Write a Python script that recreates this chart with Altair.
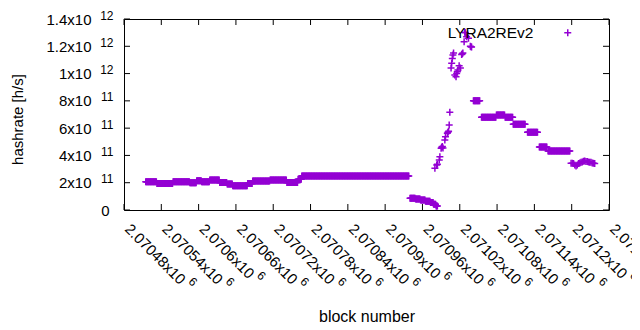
import altair as alt
import pandas as pd

# ---- data (hashrate in units of 1e11 h/s) ----
# flat runs: first block, last block, value
run_first = [2070515, 2070533, 2070559, 2070586, 2070597, 2070605, 2070618, 2070634,
             2070646, 2070655, 2070679, 2070687, 2070715, 2070742, 2070760, 2070766,
             2070940, 2070949, 2070957, 2070965, 2070973, 2070978, 2070982,
             2071042, 2071055, 2071079, 2071093, 2071106, 2071129, 2071148, 2071162]
run_last = [2070532, 2070558, 2070585, 2070596, 2070604, 2070617, 2070633, 2070645,
            2070654, 2070678, 2070686, 2070714, 2070741, 2070759, 2070765, 2070938,
            2070948, 2070956, 2070964, 2070972, 2070977, 2070981, 2070984,
            2071052, 2071078, 2071092, 2071105, 2071125, 2071145, 2071160, 2071197]
run_rate = [2.07, 1.95, 2.07, 1.99, 2.14, 2.07, 2.20, 2.02,
            1.90, 1.78, 1.95, 2.12, 2.20, 2.02, 2.25, 2.50,
            0.86, 0.80, 0.73, 0.65, 0.55, 0.43, 0.30,
            8.00, 6.80, 6.96, 6.80, 6.28, 5.70, 4.62, 4.33]

# single points (spike and tail)
spot_block = [2070980, 2070983, 2070984, 2070987, 2070988, 2070990, 2070991, 2070992,
              2070993, 2070996, 2070997, 2071000, 2071001, 2071002, 2071003, 2071004,
              2071006, 2071007, 2071008, 2071009, 2071010, 2071012, 2071014, 2071015,
              2071016, 2071017, 2071019, 2071021, 2071023, 2071024, 2071025, 2071027,
              2071028, 2071029, 2071031, 2071034, 2071037, 2071038, 2071039,
              2071199, 2071201, 2071203, 2071205, 2071207, 2071209, 2071211, 2071213,
              2071215, 2071217, 2071219, 2071221, 2071223, 2071225, 2071227, 2071229,
              2071231, 2071233, 2071235, 2071237]
spot_rate = [3.06, 3.30, 3.35, 3.67, 3.90, 4.52, 4.60, 4.65,
             4.55, 5.13, 5.37, 5.62, 5.70, 5.78, 6.23, 7.16,
             10.40, 10.75, 11.10, 11.36, 11.50, 9.90, 9.77, 10.00,
             10.14, 10.26, 10.58, 10.40, 11.40, 11.45, 11.50, 12.34,
             13.03, 13.00, 12.70, 12.59, 12.00, 11.97, 11.95,
             3.42, 3.42, 3.40, 3.30, 3.22, 3.30, 3.40, 3.45,
             3.50, 3.52, 3.58, 3.60, 3.55, 3.55, 3.52, 3.50,
             3.50, 3.45, 3.42, 3.40]

series_name = "LYRA2REv2"

x_ticks = [2070480, 2070540, 2070600, 2070660, 2070720, 2070780, 2070840,
           2070900, 2070960, 2071020, 2071080, 2071140, 2071200, 2071260]
x_tick_base = ["2.07048x10", "2.07054x10", "2.0706x10", "2.07066x10", "2.07072x10",
               "2.07078x10", "2.07084x10", "2.0709x10", "2.07096x10", "2.07102x10",
               "2.07108x10", "2.07114x10", "2.0712x10", "2.07126x10"]
x_tick_exp = ["6"] * len(x_ticks)

y_ticks = [0, 2e11, 4e11, 6e11, 8e11, 1e12, 1.2e12, 1.4e12]
y_tick_base = ["0", "2x10", "4x10", "6x10", "8x10", "1x10", "1.2x10", "1.4x10"]
y_tick_exp = ["", "11", "11", "11", "11", "12", "12", "12"]

# ---- build tables ----
blocks, rates = [], []
for f, l, v in zip(run_first, run_last, run_rate):
    for b in range(f, l + 1):
        blocks.append(b)
        rates.append(v * 1e11)
for b, v in zip(spot_block, spot_rate):
    blocks.append(b)
    rates.append(v * 1e11)
df = pd.DataFrame({"block": blocks, "rate": rates, "series": series_name})
xt = pd.DataFrame({"block": x_ticks})
yt = pd.DataFrame({"rate": y_ticks})

W, H = 485, 191
FONT = "Liberation Sans"
PURPLE = "#9400d3"
PLUS = "M-1,0H1M0,-1V1"
XDOM = [x_ticks[0], x_ticks[-1]]
YDOM = [0, 1.4e12]


def xs():
    return alt.Scale(domain=XDOM, nice=False, zero=False)


def ys():
    return alt.Scale(domain=YDOM, nice=False, zero=True)


def arr(lst):
    return "[" + ",".join("'" + s + "'" for s in lst) + "]"


x_idx = f"round((datum.value-{x_ticks[0]})/60)"
y_idx = "round(datum.value/2e11)"

x_axis = alt.Axis(
    values=x_ticks, labelExpr=arr(x_tick_base) + "[" + x_idx + "]",
    labelAngle=45, labelAlign="left", labelBaseline="middle",
    labelPadding=16, labelOffset=3, ticks=False, tickSize=0, domain=False,
    grid=False, labelFont=FONT, labelFontSize=15, labelColor="black",
    labelOverlap=False, labelFlush=False, labelBound=False,
    title="block number", titleFont=FONT, titleFontSize=16,
    titleFontWeight="normal", titleColor="black", titleY=111,
    titleBaseline="alphabetic")
y_axis = alt.Axis(
    values=y_ticks, labelExpr=arr(y_tick_base) + "[" + y_idx + "]",
    labelPadding={"condition": {"test": "datum.value == 0", "value": 15}, "value": 33},
    ticks=False, tickSize=0, domain=False, grid=False,
    labelFont=FONT, labelFontSize=15, labelColor="black",
    labelOverlap=False, labelFlush=False, labelBound=False,
    title="hashrate [h/s]", titleFont=FONT, titleFontSize=15,
    titleFontWeight="normal", titleColor="black", titleX=-107, titleY=100,
    titleBaseline="middle", titleAlign="center", titleAngle=270)

points = alt.Chart(df).mark_point(
    shape=PLUS, filled=False, size=49, strokeWidth=1.5, opacity=1
).encode(
    x=alt.X("block:Q", scale=xs(), axis=x_axis),
    y=alt.Y("rate:Q", scale=ys(), axis=y_axis),
    color=alt.Color("series:N", scale=alt.Scale(range=[PURPLE]), legend=alt.Legend(
        orient="none", legendX=436, legendY=6, title=None, padding=0,
        labelAlign="right", labelOffset={"expr": "-42"}, labelFont=FONT, labelFontSize=15.5,
        labelColor="black", symbolType=PLUS, symbolSize=49, symbolStrokeWidth=1.5,
        symbolStrokeColor=PURPLE)),
)

tick_bottom = alt.Chart(xt).mark_rule(color="black", strokeWidth=1).encode(
    x=alt.X("block:Q", scale=xs(), axis=x_axis), y=alt.value(H), y2=alt.value(H - 6))
tick_top = alt.Chart(xt).mark_rule(color="black", strokeWidth=1).encode(
    x=alt.X("block:Q", scale=xs(), axis=x_axis), y=alt.value(0), y2=alt.value(6))
tick_left = alt.Chart(yt).mark_rule(color="black", strokeWidth=1).encode(
    y=alt.Y("rate:Q", scale=ys(), axis=y_axis), x=alt.value(0), x2=alt.value(6))
tick_right = alt.Chart(yt).mark_rule(color="black", strokeWidth=1).encode(
    y=alt.Y("rate:Q", scale=ys(), axis=y_axis), x=alt.value(W), x2=alt.value(W - 6))

base = alt.layer(points, tick_bottom, tick_top, tick_left, tick_right)

# second set of axes carrying the exponents as raised, smaller labels
exp_layer = alt.Chart(yt.assign(block=x_ticks[0])).mark_point(opacity=0).encode(
    x=alt.X("block:Q", scale=xs(), axis=alt.Axis(
        orient="bottom", values=x_ticks, labelExpr=arr(x_tick_exp) + "[" + x_idx + "]",
        labelAngle=45, labelAlign="left", labelBaseline="middle",
        labelOffset={"condition": {"test": "datum.value % 300 == 0", "value": 60}, "value": 66},
        labelPadding={"condition": {"test": "datum.value % 300 == 0", "value": 63}, "value": 69},
        ticks=False, tickSize=0, domain=False, grid=False, title=None,
        labelFont=FONT, labelFontSize=12, labelColor="black",
        labelOverlap=False, labelFlush=False, labelBound=False)),
    y=alt.Y("rate:Q", scale=ys(), axis=alt.Axis(
        orient="left", values=y_ticks, labelExpr=arr(y_tick_exp) + "[" + y_idx + "]",
        labelPadding=11, labelOffset=-4,
        ticks=False, tickSize=0, domain=False, grid=False, title=None,
        labelFont=FONT, labelFontSize=12, labelColor="black",
        labelOverlap=False, labelFlush=False, labelBound=False)),
)

chart = alt.layer(base, exp_layer).resolve_scale(
    x="independent", y="independent"
).properties(
    width=W, height=H,
    autosize=alt.AutoSizeParams(type="none"),
    padding={"left": 116, "top": 11, "right": 23, "bottom": 116},
    background="white",
).configure_view(stroke="black", strokeWidth=1)

chart.save("out.html", embed_options={"renderer": "svg", "actions": False})
